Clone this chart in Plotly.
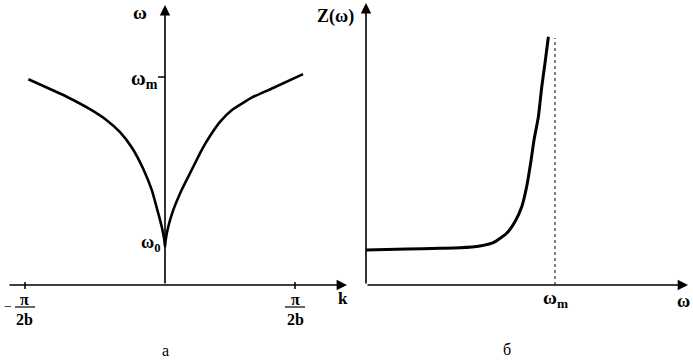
import plotly.graph_objects as go

W, H = 693, 361

# ---- data: panel a, dispersion curve omega(k); k in units of pi/2b, omega in units of omega_m
k_left = [-1.051, -0.756, -0.577, -0.449, -0.346, -0.254, -0.167, -0.102, -0.059, -0.025, -0.005]
w_left = [0.989, 0.905, 0.845, 0.792, 0.735, 0.660, 0.558, 0.457, 0.361, 0.280, 0.216]
k_right = [0.0, 0.005, 0.025, 0.064, 0.128, 0.205, 0.282, 0.346, 0.423, 0.515, 0.677, 0.831, 1.062]
w_right = [0.184, 0.216, 0.280, 0.361, 0.457, 0.553, 0.649, 0.716, 0.784, 0.841, 0.904, 0.947, 1.014]
omega_m = 1.0
omega_0 = 0.19
k_ticks = [-1.077, 1.0]

# ---- data: panel б, Z(omega); omega in units of omega_m
om_b = [0.0, 0.217, 0.392, 0.497, 0.603, 0.674, 0.744, 0.788, 0.824, 0.850, 0.871, 0.889,
        0.912, 0.930, 0.947, 0.965]
z_b = [0.35, 0.36, 0.367, 0.372, 0.39, 0.423, 0.517, 0.633, 0.783, 0.983, 1.217, 1.45,
       1.683, 1.983, 2.217, 2.483]
z_dotted_top = 2.47

FONT = "Liberation Serif"
BLK = "black"

fig = go.Figure()
fig.add_trace(go.Scatter(x=k_left + k_right, y=w_left + w_right, mode="lines",
                         line=dict(color=BLK, width=2.6, shape="spline", smoothing=0.5),
                         xaxis="x", yaxis="y", hoverinfo="skip"))
fig.add_trace(go.Scatter(x=om_b, y=z_b, mode="lines",
                         line=dict(color=BLK, width=3, shape="spline", smoothing=0.6),
                         xaxis="x2", yaxis="y2", hoverinfo="skip"))

ann = []
def arrow(xr, yr, x0, y0, x1, y1):
    ann.append(dict(xref=xr, yref=yr, axref=xr, ayref=yr, x=x1, y=y1, ax=x0, ay=y0,
                    text="", showarrow=True, arrowhead=2, arrowsize=1.3,
                    arrowwidth=1.6, arrowcolor=BLK))

def txt(t, x, y, xr="paper", yr="paper", size=16, bold=True, xa="center", ya="middle", xs=0, ys=0):
    ann.append(dict(xref=xr, yref=yr, x=x, y=y, text=("<b>%s</b>" % t) if bold else t,
                    showarrow=False, xanchor=xa, yanchor=ya, xshift=xs, yshift=ys,
                    font=dict(family=FONT, size=size, color=BLK)))

def px(v):
    return v / W
def py(v):
    return 1 - v / H

# axes, panel a
arrow("x", "y", 0, 0, 0, 1.346)
arrow("x", "y", -1.208, 0, 1.40, 0)
# axes, panel b
arrow("x2", "y2", 0, 0, 0, 2.82)
arrow("x2", "y2", 0, 0, 1.704, 0)

shapes = [
    dict(type="line", xref="x", yref="y", xsizemode="pixel", xanchor=0, x0=-7, x1=0,
         y0=omega_m, y1=omega_m, line=dict(color=BLK, width=1.5)),
    dict(type="line", xref="x2", yref="y2", x0=1.0, x1=1.0, y0=0, y1=z_dotted_top,
         line=dict(color=BLK, width=1, dash="dot")),
]
for kt in k_ticks:
    shapes.append(dict(type="line", xref="x", yref="y", ysizemode="pixel", yanchor=0,
                       y0=-4, y1=3, x0=kt, x1=kt, line=dict(color=BLK, width=1.5)))
    shapes.append(dict(type="line", xref="x", yref="y", xsizemode="pixel", xanchor=kt,
                       ysizemode="pixel", yanchor=0, x0=-10, x1=10, y0=-22, y1=-22,
                       line=dict(color=BLK, width=1.2)))

# labels panel a
txt("ω", px(140), py(13), size=19)
txt("ω<sub>m</sub>", 0, omega_m, xr="x", yr="y", xa="right", xs=-5, ys=-2, size=20)
txt("ω<sub>0</sub>", 0, omega_0, xr="x", yr="y", xa="right", xs=-3, ys=2, size=18)
for kt in k_ticks:
    txt("π", kt, 0, xr="x", yr="y", size=16, ys=-14)
    txt("2b", kt, 0, xr="x", yr="y", size=16, ys=-34)
txt("−", px(8), py(306), size=14, bold=False)
txt("k", px(343), py(298), size=17)
txt("а", px(165), py(350), size=16, bold=False)

# labels panel b
txt("Z(ω)", px(356), py(17), xa="right", size=18)
txt("ω<sub>m</sub>", 1.0, 0, xr="x2", yr="y2", ys=-14, size=19)
txt("ω", px(683), py(301), size=18)
txt("б", px(507), py(349), size=16, bold=False)

ax_common = dict(visible=False, showgrid=False, zeroline=False, fixedrange=True)
fig.update_layout(
    width=W, height=H, margin=dict(l=0, r=0, t=0, b=0),
    paper_bgcolor="white", plot_bgcolor="white", showlegend=False,
    xaxis=dict(domain=[0, 360 / W], range=[-165 / 130, (360 - 165) / 130], **ax_common),
    yaxis=dict(domain=[0, 1], range=[-76 / 208, 285 / 208], anchor="x", **ax_common),
    xaxis2=dict(domain=[360 / W, 1], range=[-6 / 189, 327 / 189], anchor="y2", **ax_common),
    yaxis2=dict(domain=[0, 1], range=[-0.76, 2.85], anchor="x2", **ax_common),
    annotations=ann, shapes=shapes,
)
fig.write_html("out.html", config={"displayModeBar": False},
               post_script="document.body.style.margin='0';")
